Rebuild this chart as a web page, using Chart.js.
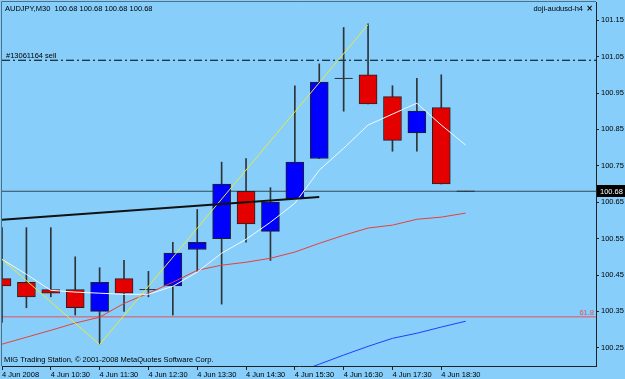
<!DOCTYPE html>
<html>
<head>
<meta charset="utf-8">
<script src="https://cdn.jsdelivr.net/npm/chart.js@4.4.1/dist/chart.umd.min.js"></script>
<style>
  html,body{margin:0;padding:0;background:#87cefa;}
  #wrap{width:625px;height:379px;}
</style>
</head>
<body>
<div id="wrap"><canvas id="grafico" width="625" height="379"></canvas></div>
<script>
const d = document;

//Etiquetas de tiempo (una por vela M30)
const horas = ["4 Jun 2008","","4 Jun 10:30","","4 Jun 11:30","","4 Jun 12:30","","4 Jun 13:30","","4 Jun 14:30","","4 Jun 15:30","","4 Jun 16:30","","4 Jun 17:30","","4 Jun 18:30",""];

//Velas AUDJPY
const apertura = [100.44,100.43,100.41,100.41,100.35,100.44,100.41,100.42,100.52,100.55,100.68,100.57,100.66,100.77,100.99,101.00,100.94,100.84,100.91,100.68];
const maximo   = [100.58,100.58,100.58,100.50,100.47,100.49,100.46,100.54,100.63,100.76,100.77,100.69,100.97,101.03,101.13,101.14,100.97,100.99,101.00,100.68];
const minimo   = [100.32,100.36,100.39,100.34,100.26,100.35,100.39,100.34,100.46,100.37,100.54,100.49,100.66,100.77,100.90,100.92,100.79,100.79,100.70,100.68];
const cierre   = [100.42,100.39,100.40,100.36,100.43,100.40,100.41,100.51,100.54,100.70,100.59,100.65,100.76,100.98,100.99,100.92,100.82,100.90,100.70,100.68];

//Medias moviles
const maBlanca = [100.493,100.452,100.408,100.403,100.400,100.397,100.397,100.419,100.458,100.510,100.548,100.595,100.647,100.738,100.798,100.862,100.892,100.922,100.862,100.807];
const maRoja   = [100.260,100.279,100.298,100.318,100.334,100.372,100.400,100.430,100.463,100.477,100.485,100.496,100.513,100.537,100.559,100.579,100.587,100.603,100.609,100.620];
const maAzul   = [null,null,null,null,null,null,null,null,null,null,null,100.150,100.180,100.205,100.230,100.254,100.276,100.290,100.307,100.323];

//ZigZag y linea de tendencia
const zigzagX = [0,4,15];
const zigzagY = [100.493,100.259,101.138];
const tendX = [0,13];
const tendY = [100.602,100.664];

//Niveles
const precioActual = 100.68, nivelVenta = 101.04, nivelFibo = 100.335;
const yTicks = [100.25,100.35,100.45,100.55,100.65,100.75,100.85,100.95,101.05,101.15];
const xMax = 24.34;

//Armado de datasets
const pts = (arr) => arr.map((v,i) => ({x:i, y:v}));
const horizontal = (v) => [{x:0,y:v},{x:xMax,y:v}];
const esDoji = (i) => apertura[i] === cierre[i];

const cuerpos = [], colores = [], mechas = [], dojis = [];
apertura.forEach((o,i) => {
  mechas.push({x:i, y:[minimo[i], maximo[i]]});
  if (esDoji(i)) { dojis.push({x:i, y:o}); return; }
  cuerpos.push({x:i, y:[o, cierre[i]]});
  colores.push(cierre[i] > o ? '#0000ff' : '#e50000');
});

const linea = (data, color, order, extra) => Object.assign({
  type:'line', data, borderColor:color, borderWidth:1, pointRadius:0, tension:0, order, spanGaps:true
}, extra || {});

//Sin padding extra de etiquetas
const sinPadding = (s) => { s.paddingLeft = 0; s.paddingRight = 0; s.paddingTop = 0; s.paddingBottom = 0; };

const fondo = {
  id:'fondo',
  beforeDraw(c) {
    const ctx = c.ctx;
    ctx.save();
    ctx.fillStyle = '#87cefa';
    ctx.fillRect(0,0,c.width,c.height);
    //Marco
    const a = c.chartArea;
    ctx.strokeStyle = '#4f6f86';
    ctx.lineWidth = 1;
    ctx.beginPath();
    ctx.moveTo(a.left-0.5, a.bottom);
    ctx.lineTo(a.left-0.5, a.top-0.5);
    ctx.lineTo(a.right, a.top-0.5);
    ctx.stroke();
    ctx.restore();
  },
  afterDraw(c) {
    const ctx = c.ctx, y = c.scales.y, a = c.chartArea;
    ctx.save();
    ctx.font = '7.5px "Liberation Sans"';
    ctx.textBaseline = 'alphabetic';
    ctx.fillStyle = '#000';
    ctx.textAlign = 'left';
    ctx.fillText('AUDJPY,M30  100.68 100.68 100.68 100.68', 5, 11);
    ctx.fillText('#13061164 sell', 6, y.getPixelForValue(nivelVenta) - 2);
    ctx.fillText('MIG Trading Station, \u00a9 2001-2008 MetaQuotes Software Corp.', 4, 362);
    ctx.textAlign = 'right';
    ctx.fillText('doji-audusd-h4', 583, 11);
    ctx.font = 'bold 8px "DejaVu Sans"';
    ctx.fillText('\u00d7', 593, 11);
    //Etiqueta fibo
    ctx.font = '7.5px "Liberation Sans"';
    ctx.fillStyle = '#e8505a';
    ctx.fillText('61.8', a.right - 2, y.getPixelForValue(nivelFibo) - 2);
    //Caja del precio actual
    const py = Math.round(y.getPixelForValue(precioActual));
    ctx.fillStyle = '#000';
    ctx.fillRect(a.right + 1, py - 6, 28, 12);
    ctx.fillStyle = '#fff';
    ctx.textAlign = 'left';
    ctx.textBaseline = 'middle';
    ctx.fillText(precioActual.toFixed(2), a.right + 4, py + 0.5);
    ctx.restore();
  }
};

Chart.defaults.font.family = '"Liberation Sans"';
Chart.defaults.font.size = 7.5;
Chart.defaults.color = '#000';

const $grafico = d.getElementById('grafico');
new Chart($grafico, {
  type:'bar',
  data:{
    datasets:[
      linea(horizontal(precioActual), '#34495a', 20),
      linea(horizontal(nivelFibo), '#e8505a', 21),
      linea(horizontal(nivelVenta), '#000', 22, {borderDash:[8,3,2,3]}),
      {type:'bar', data:mechas, backgroundColor:'#2e3338', borderWidth:0, barThickness:1, grouped:false, order:10},
      {type:'bar', data:cuerpos, backgroundColor:colores, borderColor:'#222', borderWidth:1, borderSkipped:false, barThickness:18, grouped:false, order:9},
      {type:'scatter', data:dojis, pointStyle:'line', radius:9, borderColor:'#2e3338', borderWidth:1, order:8},
      linea(pts(maRoja), '#e8403a', 5),
      linea(pts(maAzul), '#1f3fff', 5),
      linea(pts(maBlanca), '#f4faff', 4),
      linea(zigzagX.map((x,i) => ({x, y:zigzagY[i]})), '#eaea3a', 3),
      linea(tendX.map((x,i) => ({x, y:tendY[i]})), '#111', 2, {borderWidth:2})
    ]
  },
  options:{
    responsive:false,
    animation:false,
    events:[],
    layout:{autoPadding:false, padding:{left:2, top:2, right:0, bottom:0}},
    plugins:{legend:{display:false}, tooltip:{enabled:false}},
    scales:{
      x:{
        type:'linear', min:0, max:xMax, offset:false,
        afterBuildTicks:(s) => { s.ticks = horas.map((h,i) => ({value:i})).filter((t,i) => horas[i] !== ''); },
        afterFit:(s) => { s.height = 13; sinPadding(s); },
        ticks:{callback:(v) => horas[v], align:'start', maxRotation:0, autoSkip:false, padding:0},
        grid:{drawOnChartArea:false, tickLength:4, color:'#222', offset:false},
        border:{color:'#222'}
      },
      y:{
        position:'right', min:100.2, max:101.2,
        afterBuildTicks:(s) => { s.ticks = yTicks.map(v => ({value:v})); },
        afterFit:(s) => { s.width = 29; sinPadding(s); },
        ticks:{callback:(v) => v.toFixed(2), padding:2},
        grid:{drawOnChartArea:false, tickLength:3, color:'#222'},
        border:{color:'#222'}
      }
    }
  },
  plugins:[fondo]
});
</script>
</body>
</html>
